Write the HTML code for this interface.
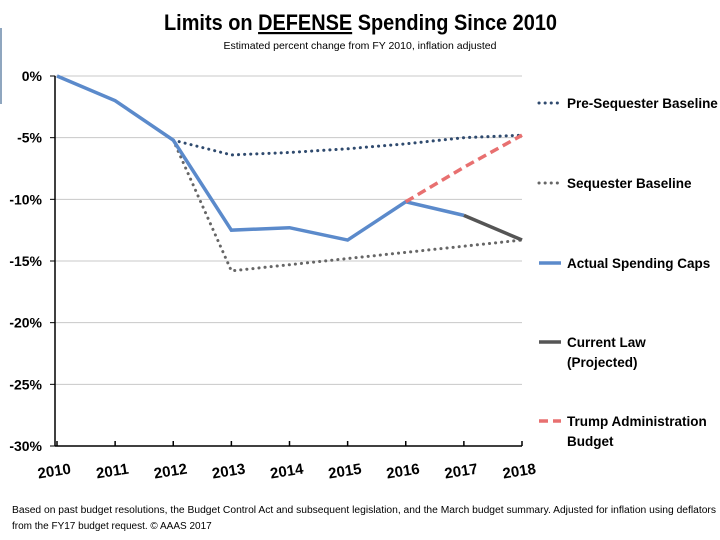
<!DOCTYPE html>
<html><head><meta charset="utf-8"><style>
body{margin:0;background:#fff;width:720px;height:540px;overflow:hidden;font-family:"Liberation Sans",sans-serif}
</style></head><body>
<svg id="c" width="720" height="540" style="position:absolute;left:0;top:0">
<rect x="0" y="28" width="2" height="76" fill="#8fa6bf"/>
<text x="164" y="30" textLength="393" lengthAdjust="spacingAndGlyphs" font-size="22" font-weight="bold" fill="#000">Limits on <tspan text-decoration="underline">DEFENSE</tspan> Spending Since 2010</text>
<text x="360" y="49" text-anchor="middle" font-size="10.5" fill="#000">Estimated percent change from FY 2010, inflation adjusted</text>
<g id="grid"></g><g id="axes"></g><g id="series"></g><g id="legend"></g>
<text x="12" y="513" textLength="704" lengthAdjust="spacingAndGlyphs" font-size="10" fill="#000">Based on past budget resolutions, the Budget Control Act and subsequent legislation, and the March budget summary.  Adjusted for inflation using deflators</text>
<text x="12" y="529" font-size="10" fill="#000">from the FY17 budget request. © AAAS 2017</text>
</svg>
<script>
const years=[2010,2011,2012,2013,2014,2015,2016,2017,2018];
const yTicks=[0,-5,-10,-15,-20,-25,-30];
const actual=[0,-2.0,-5.2,-12.5,-12.3,-13.3,-10.2,-11.3,null];
const preSeq=[null,null,-5.2,-6.4,-6.2,-5.9,-5.5,-5.0,-4.8];
const seq=[null,null,-5.2,-15.8,-15.3,-14.8,-14.3,-13.8,-13.3];
const currentLaw=[null,null,null,null,null,null,null,-11.3,-13.3];
const trump=[null,null,null,null,null,null,-10.2,-7.4,-4.8];
const NS="http://www.w3.org/2000/svg";
const X=i=>57+i*(522-57)/(years.length-1);
const Y=v=>76+(-v)*(446-76)/30;
function mk(p,t,a){const e=document.createElementNS(NS,t);for(const k in a)e.setAttribute(k,a[k]);document.getElementById(p).appendChild(e);return e;}
yTicks.forEach(v=>{
 if(v!==-30){const g=mk('grid','line',{x1:55,x2:522,y1:Y(v),y2:Y(v),stroke:'#c8c8c8','stroke-width':1});
 
 }
 const t=mk('axes','text',{x:42,y:Y(v)+5,'text-anchor':'end','font-size':14,'font-weight':'bold'});t.textContent=v+'%';
 
 
 mk('axes','line',{x1:50,x2:55,y1:Y(v),y2:Y(v),stroke:'#000'});
});
mk('axes','line',{x1:55,x2:55,y1:76,y2:446,stroke:'#000','stroke-width':1.5});
mk('axes','line',{x1:55,x2:522,y1:446,y2:446,stroke:'#000','stroke-width':1.5});
years.forEach((yr,i)=>{
 mk('axes','line',{x1:X(i),x2:X(i),y1:446,y2:441,stroke:'#000','stroke-width':1.5});
 const t=mk('axes','text',{x:X(i)-2,y:476,'text-anchor':'middle','font-size':15,'font-weight':'bold',transform:`rotate(-9 ${X(i)-2} 476)`});t.textContent=yr;
 
 
});
function line(arr,st,name){let d='';arr.forEach((v,i)=>{if(v===null)return;d+=(d?'L':'M')+X(i)+' '+Y(v);});
 const p=mk('series','path',Object.assign({d,fill:'none'},st));
 
 }
const sPre={stroke:'#2f4a6e','stroke-width':3,'stroke-dasharray':'0.1 6','stroke-linecap':'round'};
const sSeq={stroke:'#666','stroke-width':3,'stroke-dasharray':'0.1 6','stroke-linecap':'round'};
const sAct={stroke:'#5b8acb','stroke-width':3.5};
const sCur={stroke:'#555','stroke-width':3.5};
const sTr={stroke:'#e87070','stroke-width':3.5,'stroke-dasharray':'9 5'};
line(seq,sSeq,'sequester-baseline-line');
line(preSeq,sPre,'pre-sequester-baseline-line');
line(actual,sAct,'actual-spending-caps-line');
line(currentLaw,sCur,'current-law-line');
line(trump,sTr,'trump-budget-line');
const leg=[[103,['Pre-Sequester Baseline'],sPre,'legend-pre-sequester'],[183,['Sequester Baseline'],sSeq,'legend-sequester'],[263,['Actual Spending Caps'],sAct,'legend-actual'],[342,['Current Law','(Projected)'],sCur,'legend-current-law'],[421,['Trump Administration','Budget'],sTr,'legend-trump']];
leg.forEach(([y,lines,st,n])=>{
 const l=mk('legend','line',Object.assign({x1:539,x2:561,y1:y,y2:y},st));
 
 
 lines.forEach((s,k)=>{const t=mk('legend','text',{x:567,y:y+5+k*20,'font-size':13.5,'font-weight':'bold'});t.textContent=s;
 
 });
});
</script>
</body></html>
